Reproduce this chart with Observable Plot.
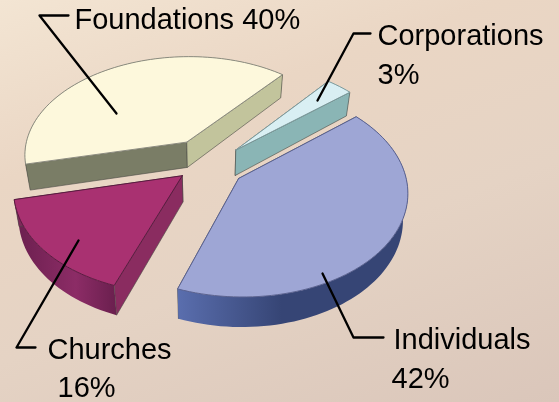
<!DOCTYPE html>
<html>
<head>
<meta charset="utf-8">
<script src="https://cdn.jsdelivr.net/npm/d3@7"></script>
<script src="https://cdn.jsdelivr.net/npm/@observablehq/plot@0.6"></script>
<style>html,body{margin:0;padding:0;background:#e4d3c4}svg{display:block}</style>
</head>
<body>
<div id="chart"></div>
<script>
// Data
const categories = ["Corporations", "Individuals", "Churches", "Foundations"];
const shares = [3, 42, 16, 40];
const labelLines = [["Corporations", "3%"], ["Individuals", "42%"], ["Churches", "16%"], ["Foundations 40%"]];

// Styling and 3D camera
const W = 559, H = 402;
const cam = {cx: 210, cy: 165, a: 165, b: 101, k: 0.12, depth: 26, conv: 0.025};
const startAngle = -50.4 * Math.PI / 180;
// Exploded offset of each slice on the pie's ground plane
const offsetX = [0.156, 0.168, -0.169, -0.148];
const offsetY = [-0.156, 0.126, 0.100, -0.238];
const topFill = ["#d9eff3", "#9ea6d5", "#a93171", "#fdf8dc"];
const startFace = ["#8ab5b5", "#47588f", "#8a2c60", "#7a7d66"];
const endFace = ["#8ab5b5", "#47588f", "#7d2a5a", "#c2c49c"];
const wallStops = [
  ["#8ab5b5", "#8ab5b5"],
  ["#364575", "#5a6eae"],
  ["#6a1f4e", "#8c2c66"],
  ["#7a7d66", "#7a7d66"]
];
const topStroke = ["#7d9a9c", "#5a6290", "#5a1a40", "#8c8c80"];
// Painter's order of a slice's side faces: s = start cut, e = end cut, w = outer wall
const faceOrder = ["wse", "esw", "wes", "wse"];

const project = (x, y, z = 0) => {
  const w = 1 - cam.k * y;
  return {
    x: cam.cx + (cam.a * x / w) * (1 - cam.conv * z),
    y: cam.cy + cam.b * y / w + cam.depth * z / w
  };
};

// Slice angles from the values
const pie = d3.pie().sort(null).startAngle(startAngle).endAngle(startAngle + 2 * Math.PI);
const arcs = pie(shares);

const marks = [];
marks.push(() => {
  const defs = d3.create("svg:defs");
  wallStops.forEach((s, i) => {
    const g = defs.append("linearGradient").attr("id", "wall" + i);
    g.append("stop").attr("offset", "0%").attr("stop-color", s[i === 1 ? 1 : 0]);
    g.append("stop").attr("offset", i === 1 ? "45%" : "60%").attr("stop-color", s[i === 1 ? 0 : 1]);
    g.append("stop").attr("offset", "100%").attr("stop-color", s[0]);
  });
  return defs.node();
});

const poly = (pts, fill, stroke = "none", strokeWidth = 0.8) =>
  Plot.line([...pts, pts[0]], {x: "x", y: "y", fill, stroke, strokeWidth, strokeLinejoin: "round"});

[3, 0, 2, 1].forEach(i => {
  const d = arcs[i];
  const ox = offsetX[i], oy = offsetY[i];
  const n = Math.max(6, Math.round((d.endAngle - d.startAngle) * 30));
  const angles = d3.range(n + 1).map(j => d.startAngle + (d.endAngle - d.startAngle) * j / n);
  const rim = z => angles.map(t => project(ox + Math.cos(t), oy + Math.sin(t), z));
  const apex = z => project(ox, oy, z);
  const t0 = rim(0), b0 = rim(1);
  const edge = "#4a4a44";
  const faces = {
    w: () => poly([...t0, ...b0.slice().reverse()], `url(#wall${i})`),
    e: () => poly([apex(0), t0[t0.length - 1], b0[b0.length - 1], apex(1)], endFace[i], edge, 0.6),
    s: () => poly([apex(0), t0[0], b0[0], apex(1)], startFace[i], edge, 0.6)
  };
  for (const f of faceOrder[i]) marks.push(faces[f]());
  marks.push(poly([apex(0), ...t0], topFill[i], topStroke[i], 1));
});

// Leaders and labels
const leaders = [
  [{x: 317, y: 100}, {x: 353, y: 33}, {x: 370, y: 33}],
  [{x: 322, y: 273}, {x: 353, y: 337}, {x: 383, y: 337}],
  [{x: 78, y: 240}, {x: 16, y: 347}, {x: 35, y: 347}],
  [{x: 116, y: 113}, {x: 39, y: 15}, {x: 68, y: 15}]
];
leaders.forEach(l => marks.push(Plot.line(l, {x: "x", y: "y", stroke: "#000", strokeWidth: 2.3})));
const labelAnchors = [
  [{x: 377, y: 44}, {x: 377, y: 83}],
  [{x: 393, y: 348}, {x: 391, y: 387}],
  [{x: 47, y: 358}, {x: 57, y: 396}],
  [{x: 74, y: 28}]
];
const labelRows = labelLines.flatMap((lines, i) => lines.map((text, j) => ({text, ...labelAnchors[i][j]})));
marks.push(Plot.text(labelRows, {
  x: "x", y: "y", text: "text", textAnchor: "start", lineAnchor: "bottom",
  fontSize: 29, fontFamily: "Liberation Sans, Arial, sans-serif", fill: "#000"
}));

const plot = Plot.plot({
  width: W, height: H,
  margin: 0,
  x: {domain: [0, W], range: [0, W], axis: null},
  y: {domain: [0, H], range: [0, H], axis: null},
  style: {
    background: "linear-gradient(160deg,#f3e5d3 0%,#ead6c4 30%,#e5d3c4 60%,#dac6ba 100%)",
    overflow: "hidden",
    filter: "blur(0.4px)"
  },
  marks
});
document.getElementById("chart").appendChild(plot);
</script>
</body>
</html>
